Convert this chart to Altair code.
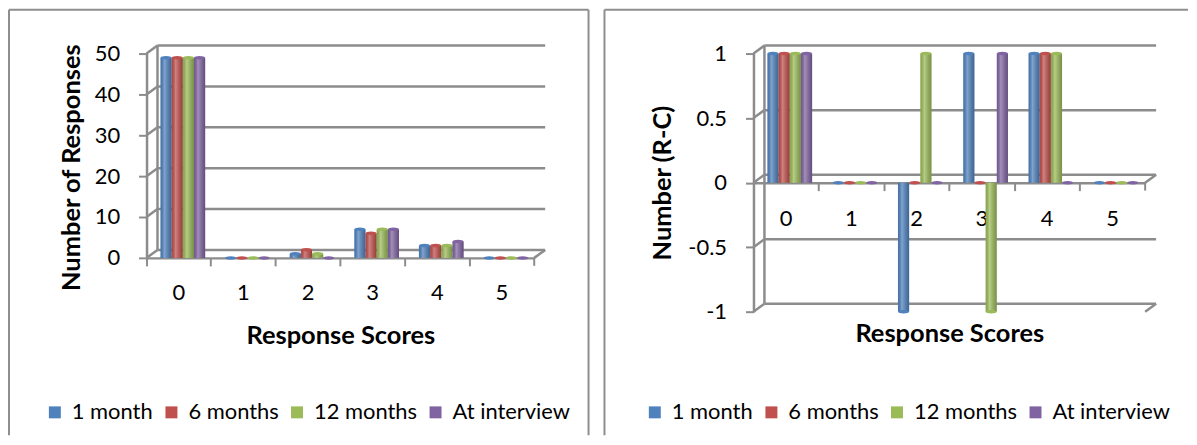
import altair as alt
import pandas as pd

SCORES = ["0", "1", "2", "3", "4", "5"]
SERIES = ["1 month", "6 months", "12 months", "At interview"]
COLORS = ["#4F81BD", "#C0504D", "#9BBB59", "#8064A2"]

# Left chart: Number of Responses
L_1M = [49, 0, 1, 7, 3, 0]
L_6M = [49, 0, 2, 6, 3, 0]
L_12M = [49, 0, 1, 7, 3, 0]
L_INT = [49, 0, 0, 7, 4, 0]

# Right chart: Number (R-C)
R_1M = [1, 0, -1, 1, 1, 0]
R_6M = [1, 0, 0, 0, 1, 0]
R_12M = [1, 0, 1, -1, 1, 0]
R_INT = [1, 0, 0, 1, 0, 0]

L_TICKS = [0, 10, 20, 30, 40, 50]
R_TICKS = [-1, -0.5, 0, 0.5, 1]

GRID = "#8C8C8C"
FRAME = "#8E8E8E"
FONT = "Lato"
DEPTH_X = 11
DEPTH_Y = -8
CAP = "M-1,0A1,0.32,0,1,0,1,0A1,0.32,0,1,0,-1,0Z"


def long_df(series_vals):
    rows = []
    for name, vals in zip(SERIES, series_vals):
        for s, v in zip(SCORES, vals):
            rows.append({"score": s, "series": name, "value": v})
    return pd.DataFrame(rows)


def panel(df, ticks, domain, W, H, ytitle, x_offset, x_label_pad, x_title_pad,
          y_title_pad, y_title_y, floor_levels, frame, legend_xy):
    yscale = alt.Scale(domain=domain, nice=False, zero=False)
    tick_df = pd.DataFrame({"v": ticks})
    one = pd.DataFrame({"a": [0]})

    xenc = alt.X(
        "score:N", sort=SCORES,
        scale=alt.Scale(domain=SCORES, paddingInner=0, paddingOuter=0),
        axis=alt.Axis(
            title="Response Scores", labelAngle=0, bandPosition=0,
            labelFontSize=22, labelFont=FONT, labelColor="black",
            labelPadding=x_label_pad, titlePadding=x_title_pad,
            titleFontSize=25.5, titleFont=FONT, titleFontWeight="bold", titleColor="black",
            domainColor=GRID, domainWidth=2.5, tickColor=GRID, tickWidth=2, tickSize=8,
            grid=False, offset=x_offset,
        ),
    )
    xoff = alt.XOffset(
        "series:N", sort=SERIES,
        scale=alt.Scale(domain=SERIES, paddingInner=0, paddingOuter=0.89, align=0.7),
    )
    cscale = alt.Scale(domain=SERIES, range=COLORS)
    color = alt.Color(
        "series:N", sort=SERIES, scale=cscale,
        legend=alt.Legend(
            orient="none", legendX=legend_xy[0], legendY=legend_xy[1],
            direction="horizontal", columns=4, title=None,
            symbolType="square", symbolSize=144, symbolStrokeWidth=0, symbolOpacity=1,
            labelFontSize=22, labelFont=FONT, labelColor="black",
            labelOffset=6, columnPadding=7, padding=0,
        ),
    )
    yaxis_kw = dict(
        title=ytitle, values=ticks, format="~r",
        labelExpr="replace(datum.label, '\u2212', '-')",
        labelFontSize=22, labelFont=FONT, labelColor="black", labelPadding=19,
        titleFontSize=25.5, titleFont=FONT, titleFontWeight="bold", titleColor="black",
        titlePadding=y_title_pad,
        domainColor=GRID, domainWidth=2.5, tickColor=GRID, tickWidth=2, tickSize=8,
        grid=False,
    )
    if y_title_y is not None:
        yaxis_kw["titleY"] = y_title_y
    yaxis = alt.Axis(**yaxis_kw)

    def Y(field):
        return alt.Y(field, scale=yscale, axis=yaxis)

    grid = alt.Chart(tick_df).mark_rule(color=GRID, strokeWidth=2.5, yOffset=DEPTH_Y).encode(
        y=Y("v:Q"), x=alt.value(DEPTH_X), x2=alt.value(W + DEPTH_X),
    )
    conn = alt.Chart(tick_df).mark_rule(color=GRID, strokeWidth=2.5, y2Offset=DEPTH_Y).encode(
        y=Y("v:Q"), y2="v:Q", x=alt.value(0), x2=alt.value(DEPTH_X),
    )
    wall_df = pd.DataFrame({"v": [domain[0]], "hi": [domain[1]]})
    wall = alt.Chart(wall_df).mark_rule(color=GRID, strokeWidth=2.5, yOffset=DEPTH_Y, y2Offset=DEPTH_Y).encode(
        y=Y("v:Q"), y2="hi:Q", x=alt.value(DEPTH_X),
    )
    floor_df = pd.DataFrame({"v": floor_levels})
    rconn = alt.Chart(floor_df).mark_rule(color=GRID, strokeWidth=2.5, y2Offset=DEPTH_Y).encode(
        y=Y("v:Q"), y2="v:Q", x=alt.value(W), x2=alt.value(W + DEPTH_X),
    )
    endtick = alt.Chart(pd.DataFrame({"v": [0]})).mark_rule(color=GRID, strokeWidth=2, y2Offset=8).encode(
        y=Y("v:Q"), y2="v:Q", x=alt.value(W),
    )

    bars = alt.Chart(df).mark_bar().encode(
        x=xenc, xOffset=xoff, y=Y("value:Q"), color=color,
    )
    shade = alt.Chart(df).mark_bar(
        color={
            "gradient": "linear", "x1": 0, "x2": 1, "y1": 0, "y2": 0,
            "stops": [
                {"offset": 0, "color": "rgba(0,0,0,0.10)"},
                {"offset": 0.35, "color": "rgba(255,255,255,0.28)"},
                {"offset": 1, "color": "rgba(0,0,0,0.22)"},
            ],
        }
    ).encode(x=xenc, xOffset=xoff, y=Y("value:Q"))
    caps = alt.Chart(df).mark_point(shape=CAP, filled=True, size=121, opacity=1, strokeWidth=0).encode(
        x=xenc, xOffset=xoff, y=Y("value:Q"),
        fill=alt.Fill("series:N", sort=SERIES, scale=cscale, legend=None),
    )

    fl, ft, fb, fr, right_edge = frame
    fleft = alt.Chart(one).mark_rule(color=FRAME, strokeWidth=2).encode(
        x=alt.value(fl), y=alt.value(ft), y2=alt.value(fb))
    ftop = alt.Chart(one).mark_rule(color=FRAME, strokeWidth=2).encode(
        x=alt.value(fl), x2=alt.value(fr), y=alt.value(ft))
    layers = [fleft, ftop]
    if right_edge:
        layers.append(alt.Chart(one).mark_rule(color=FRAME, strokeWidth=2).encode(
            x=alt.value(fr), y=alt.value(ft), y2=alt.value(fb)))

    return alt.layer(grid, wall, conn, rconn, endtick, bars, shade, caps, *layers).properties(
        width=W, height=H
    )


left_df = long_df([L_1M, L_6M, L_12M, L_INT])
right_df = long_df([R_1M, R_6M, R_12M, R_INT])

LW, LH = 389, 205
RW, RH = 393, 259

left = panel(left_df, L_TICKS, [0, 50], LW, LH, "Number of Responses",
             x_offset=0, x_label_pad=17, x_title_pad=20, y_title_pad=10, y_title_y=114,
             floor_levels=[0], frame=(-138, -44, 383, 443.5, True),
             legend_xy=(-103, 349))
right = panel(right_df, R_TICKS, [-1, 1], RW, RH, "Number (R-C)",
              x_offset=-RH / 2, x_label_pad=18, x_title_pad=92, y_title_pad=12, y_title_y=None,
              floor_levels=[0, -1], frame=(-149.5, -44, 383, 436, False),
              legend_xy=(-110, 349))

chart = alt.hconcat(left, right, spacing=13).resolve_scale(
    x="independent", y="independent", color="independent", fill="independent"
).resolve_legend(color="independent").configure(
    font=FONT, padding={"left": 0, "top": 0, "right": 0, "bottom": 0}, background="white"
).configure_view(stroke=None)

chart.save("out.html", embed_options={"renderer": "svg", "actions": False})
